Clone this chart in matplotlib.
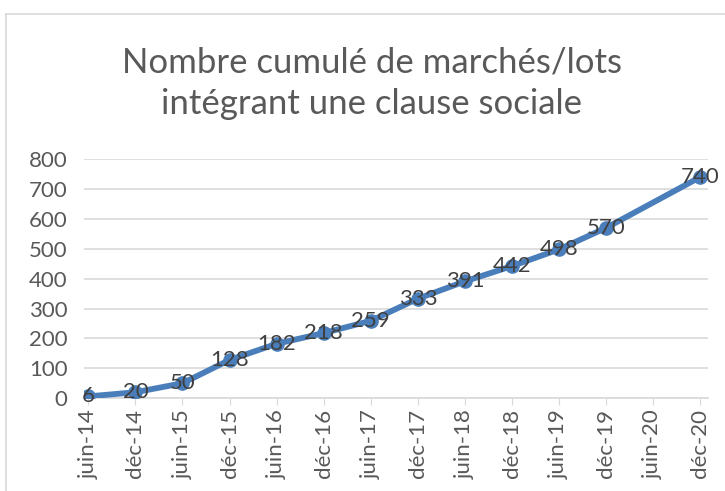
import matplotlib
matplotlib.use('Agg')
import matplotlib.pyplot as plt
from matplotlib.lines import Line2D
import numpy as np

# periods and cumulative counts (juin-20 has no value in the source)
periods = ['juin-14', 'déc-14', 'juin-15', 'déc-15', 'juin-16', 'déc-16', 'juin-17',
           'déc-17', 'juin-18', 'déc-18', 'juin-19', 'déc-19', 'juin-20', 'déc-20']
counts = [6, 20, 50, 128, 182, 218, 259, 333, 391, 442, 498, 570, None, 740]

plt.rcParams['font.family'] = ['Lato', 'DejaVu Sans']

fig = plt.figure(figsize=(7.25, 4.91), dpi=100)
ax = fig.add_axes([0.116, 0.189, 0.861, 0.487])

xs = [i for i, v in enumerate(counts) if v is not None]
ys = [v for v in counts if v is not None]

ax.plot(xs, ys, color='#4a7ebb', lw=4.2, marker='o', ms=9.5, solid_capstyle='round', zorder=3)
for x, y in zip(xs, ys):
    ax.text(x, y, str(y), ha='center', va='center', fontsize=16, color='#404040', zorder=4)

ax.set_ylim(0, 800)
ax.set_yticks(np.arange(0, 801, 100))
ax.set_xlim(-0.09, 13.17)
ax.set_xticks(range(len(periods)))
ax.set_xticklabels(periods, rotation=90)
ax.tick_params(axis='y', length=0, labelsize=16, labelcolor='#595959', pad=12)
ax.tick_params(axis='x', length=5, color='#d9d9d9', labelsize=16, labelcolor='#595959', pad=3)
ax.grid(axis='y', color='#d9d9d9', lw=1.2)
ax.set_axisbelow(True)
for s in ['top', 'right', 'left']:
    ax.spines[s].set_visible(False)
ax.spines['bottom'].set_color('#d9d9d9')
ax.spines['bottom'].set_linewidth(1.2)

fig.text(0.513, 0.831, 'Nombre cumulé de marchés/lots\nintégrant une clause sociale',
         ha='center', va='center', fontsize=25, color='#595959', linespacing=1.35)

# chart frame
fig.add_artist(Line2D([0.008, 0.008], [0, 0.972], color='#d9d9d9', lw=1.2))
fig.add_artist(Line2D([0.008, 1.0], [0.972, 0.972], color='#d9d9d9', lw=1.2))

fig.savefig('out.png', dpi=100)
